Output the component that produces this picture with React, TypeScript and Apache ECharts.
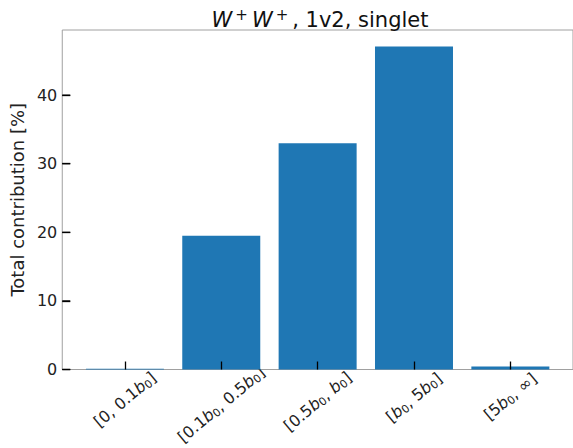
import React, { useEffect, useRef } from "react";
import * as echarts from "echarts";

const categories: string[] = [
  "[0, 0.1b_0]",
  "[0.1b_0, 0.5b_0]",
  "[0.5b_0, b_0]",
  "[b_0, 5b_0]",
  "[5b_0, ∞]",
];
const values: number[] = [0.1, 19.5, 33.0, 47.1, 0.45];
const yTicks: number[] = [0, 10, 20, 30, 40];
const titleText = "{i|W}{sup|+}{i|W}{sup|+}{n|, 1v2, singlet}";
const yLabel = "Total contribution [%]";

// style: label offsets below the axis (centre of rotated label)
const labelMargins: number[] = [30, 35, 32, 28, 27];

const FONT = "DejaVu Sans";

function toRich(s: string): string {
  const parts = s.split(/(b_0)/);
  return parts
    .filter((p) => p.length > 0)
    .map((p) => (p === "b_0" ? "{i|b}{s|0}" : `{n|${p}}`))
    .join("");
}

const labelRich = {
  n: { fontSize: 16, fontFamily: FONT, color: "#222", lineHeight: 18 },
  i: { fontSize: 16, fontFamily: FONT, fontStyle: "italic", color: "#222", lineHeight: 18 },
  s: { fontSize: 11, fontFamily: FONT, color: "#222", lineHeight: 8, verticalAlign: "bottom" },
};

export default function App() {
  const ref = useRef<HTMLDivElement>(null);
  useEffect(() => {
    if (!ref.current) return;
    const chart = echarts.init(ref.current, null, { renderer: "svg" });
    const xMin = -0.65;
    const xMax = 4.65;
    const yMax = 49.5;
    const gridLeft = 61;
    const gridTop = 30;
    const gridBottom = 73;
    const gridWidth = 519;
    const tickLenPx = 8;
    const labelAxes = categories.map((c, i) => ({
      type: "value",
      gridIndex: 0,
      position: "bottom",
      min: xMin,
      max: xMax,
      axisLine: { show: false },
      axisTick: { show: false },
      splitLine: { show: false },
      axisLabel: {
        customValues: [i],
        formatter: () => toRich(c),
        rotate: 40,
        align: "center",
        verticalAlign: "middle",
        margin: labelMargins[i],
        rich: labelRich,
      },
    }));
    // helper axis whose zero lies on the grid's left edge
    const anchorAxis = {
      type: "value",
      gridIndex: 0,
      position: "bottom",
      min: 0,
      max: 1,
      axisLine: { show: false },
      axisTick: { show: false },
      axisLabel: { show: false },
      splitLine: { show: false },
    };
    try {
      chart.setOption({
        animation: false,
        backgroundColor: "#fff",
        title: {
          text: titleText,
          left: 315,
          textAlign: "center",
          top: 2,
          textStyle: {
            fontWeight: "normal",
            rich: {
              n: { fontSize: 21, fontWeight: "normal", fontFamily: FONT, color: "#111", lineHeight: 26 },
              i: { fontSize: 21, fontWeight: "normal", fontFamily: FONT, fontStyle: "italic", color: "#111", lineHeight: 26, padding: [0, 3, 0, 0] },
              sup: { fontSize: 15, fontWeight: "normal", fontFamily: FONT, color: "#111", lineHeight: 14, verticalAlign: "top", padding: [0, 4, 0, 0] },
            },
          },
        },
        grid: {
          left: gridLeft,
          top: gridTop,
          bottom: gridBottom,
          width: gridWidth,
          show: true,
          borderColor: "#a0a0a0",
          borderWidth: 1,
          containLabel: false,
        },
        xAxis: [
          {
            type: "value",
            gridIndex: 0,
            position: "bottom",
            min: xMin,
            max: xMax,
            z: 10,
            axisLine: { show: false },
            axisTick: {
              show: true,
              inside: true,
              length: tickLenPx,
              customValues: [0, 1, 2, 3, 4],
              lineStyle: { color: "#000", width: 1.3 },
            },
            axisLabel: { show: false },
            splitLine: { show: false },
          },
          ...labelAxes,
          anchorAxis,
        ],
        yAxis: {
          type: "value",
          min: 0,
          max: yMax,
          z: 10,
          name: yLabel,
          nameLocation: "middle",
          nameGap: 28,
          nameTextStyle: { fontSize: 18, fontFamily: FONT, color: "#222" },
          axisLine: { show: false, onZero: true, onZeroAxisIndex: categories.length + 1 },
          axisTick: {
            show: true,
            inside: true,
            length: tickLenPx,
            customValues: yTicks,
            lineStyle: { color: "#000", width: 1.3 },
          },
          axisLabel: {
            customValues: yTicks,
            margin: 5,
            fontSize: 16,
            fontFamily: FONT,
            color: "#222",
          },
          splitLine: { show: false },
        },
        series: [
          {
            type: "bar",
            xAxisIndex: 0,
            yAxisIndex: 0,
            barWidth: 78,
            itemStyle: { color: "#1f77b4" },
            data: values.map((v, i) => [i, v]),
          },
        ],
      });
    } catch (e) {
      // keep going so the tick overlay is still added
    }
    try {
      const plotH = 448 - gridTop - gridBottom;
      const tickGraphics = yTicks.map((v) => {
        let px = gridLeft;
        let py = gridTop + (1 - v / yMax) * plotH;
        try {
          const p = chart.convertToPixel({ seriesIndex: 0 }, [xMin, v]) as any;
          if (p && isFinite(p[0]) && isFinite(p[1])) {
            px = p[0];
            py = p[1];
          }
        } catch (e) {
          // fallback kept
        }
        return {
          type: "line",
          silent: true,
          z: 1000,
          shape: { x1: px, y1: py, x2: px + tickLenPx, y2: py },
          style: { stroke: "#000", lineWidth: 1.3 },
        };
      });
      chart.setOption({ graphic: { elements: tickGraphics } });
    } catch (e) {
      // ignore
    }
    return () => chart.dispose();
  }, []);
  return (
    <div
      ref={ref}
      style={{ position: "fixed", left: 0, top: 0, width: 573, height: 448 }}
    />
  );
}
